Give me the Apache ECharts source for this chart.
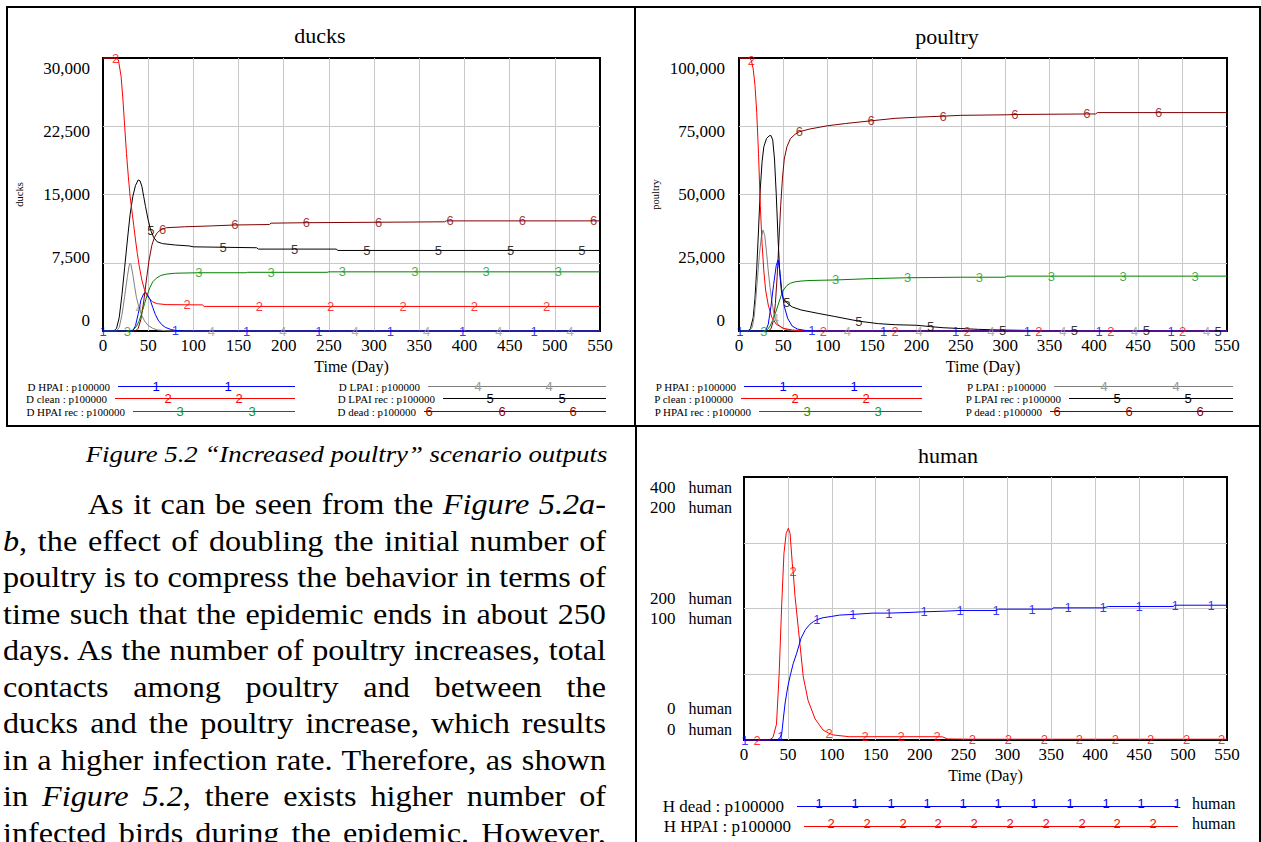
<!DOCTYPE html>
<html>
<head>
<meta charset="utf-8">
<script src="https://cdn.jsdelivr.net/npm/echarts@6/dist/echarts.min.js"></script>
<style>
html,body{margin:0;padding:0;background:#fff;width:1261px;height:842px;overflow:hidden;}
.box{position:absolute;border:2px solid #000;box-sizing:border-box;}
#chart{position:absolute;left:0;top:0;width:1261px;height:842px;}
#caption{position:absolute;right:654px;top:441px;font-style:italic;font-size:22.5px;font-family:"Liberation Serif","Times New Roman",serif;line-height:28px;white-space:nowrap;transform:scaleX(1.19);transform-origin:right center;}
#para{position:absolute;left:3px;top:487px;width:533.6px;font-size:28.5px;font-family:"Liberation Serif","Times New Roman",serif;line-height:36.5px;transform:scaleX(1.13);transform-origin:left top;}
#para div{white-space:nowrap;text-align:justify;text-align-last:justify;}
</style>
</head>
<body>
<div class="box" style="left:6px;top:6px;width:630px;height:421px;"></div>
<div class="box" style="left:634px;top:6px;width:627px;height:421px;"></div>
<div class="box" style="left:635px;top:425px;width:626px;height:430px;"></div>
<div id="caption">Figure 5.2 “Increased poultry” scenario outputs</div>
<div id="para">
<div style="text-indent:75px;">As it can be seen from the <i>Figure 5.2a-</i></div>
<div><i>b</i>, the effect of doubling the initial number of</div>
<div>poultry is to compress the behavior in terms of</div>
<div>time such that the epidemic ends in about 250</div>
<div>days. As the number of poultry increases, total</div>
<div>contacts among poultry and between the</div>
<div>ducks and the poultry increase, which results</div>
<div>in a higher infection rate. Therefore, as shown</div>
<div>in <i>Figure 5.2</i>, there exists higher number of</div>
<div>infected birds during the epidemic. However,</div>
</div>
<div id="chart"></div>
<script>
// ---------------- DATA ----------------
const duckNames = ['D HPAI : p100000','D clean : p100000','D HPAI rec : p100000','D LPAI : p100000','D LPAI rec : p100000','D dead : p100000'];
const poultryNames = ['P HPAI : p100000','P clean : p100000','P HPAI rec : p100000','P LPAI : p100000','P LPAI rec : p100000','P dead : p100000'];
const humanNames = ['H dead : p100000','H HPAI : p100000'];

const duckHPAI = [[0,0],[33,0],[36,600],[39,1900],[42,3400],[45,4100],[47,4200],[49,4000],[52,3500],[55,2600],[58,1800],[61,1200],[65,700],[69,400],[75,170],[80,60],[90,0],[159,0],[239,0],[318,0],[398,0],[477,0],[550,0]];
const duckClean = [[0,30000],[14,30000],[17,29800],[20,28000],[22,25500],[24,22500],[26,19500],[28,17000],[30,14800],[32,13200],[34,11600],[36,10000],[38,8500],[40,7200],[43,5600],[46,4500],[50,3700],[55,3200],[60,3000],[70,2900],[93,2880],[110,2870],[112,2700],[173,2700],[252,2700],[332,2700],[411,2700],[491,2700],[550,2700]];
const duckHPAIrec = [[0,0],[27,0],[33,100],[37,500],[40,1100],[43,2000],[46,3000],[49,4000],[52,4800],[55,5400],[59,5800],[64,6100],[70,6250],[80,6350],[106,6400],[158,6400],[160,6450],[186,6450],[248,6450],[250,6500],[265,6500],[345,6500],[424,6500],[504,6500],[550,6500]];
const duckLPAI = [[0,0],[15,0],[18,400],[21,1800],[24,3800],[27,6000],[29,7200],[30,7450],[31,7300],[33,6200],[35,4900],[37,3700],[40,2500],[43,1700],[46,1100],[50,600],[55,300],[60,120],[70,30],[80,0],[120,0],[199,0],[279,0],[358,0],[438,0],[517,0],[550,0]];
const duckLPAIrec = [[0,0],[12,0],[15,300],[18,1500],[21,4000],[24,7000],[27,10000],[30,12800],[33,14800],[36,16000],[39,16600],[41,16500],[43,15900],[45,14800],[47,13700],[50,12200],[53,11000],[56,10300],[60,9800],[66,9600],[80,9450],[95,9350],[100,9250],[133,9200],[170,9150],[172,9000],[212,9000],[258,9000],[260,8850],[292,8850],[371,8850],[451,8850],[530,8850],[550,8850]];
const duckDead = [[0,0],[36,0],[39,300],[42,1300],[45,3200],[48,5600],[51,7800],[54,9400],[57,10300],[60,10800],[63,11050],[66,11200],[70,11350],[90,11450],[120,11550],[146,11650],[184,11700],[186,11850],[225,11900],[305,11950],[378,12000],[380,12100],[384,12100],[464,12100],[543,12100],[550,12100]];

const poultryHPAI = [[0,0],[1,0],[30,0],[33,2500],[36,9000],[39,17000],[42,24000],[44,26000],[46,22000],[48,15500],[51,9000],[55,4500],[60,1800],[66,700],[75,200],[82,50],[95,0],[163,0],[244,0],[325,0],[406,0],[487,0],[550,0]];
const poultryClean = [[0,100000],[12,100000],[14,99000],[16,96000],[18,90000],[20,80000],[22,65000],[24,46000],[26,32000],[28,22000],[30,15000],[33,9500],[37,5000],[42,2500],[50,1000],[60,350],[75,100],[95,0],[176,0],[257,0],[338,0],[419,0],[500,0],[550,0]];
const poultryHPAIrec = [[0,0],[28,0],[32,500],[35,1800],[38,4000],[41,6500],[44,9500],[47,12500],[50,15000],[54,16700],[58,17500],[63,18000],[70,18300],[80,18500],[109,18700],[150,19200],[190,19500],[250,19700],[271,19700],[300,19700],[302,20100],[352,20100],[433,20100],[514,20100],[550,20100]];
const poultryLPAI = [[0,0],[12,0],[15,1500],[17,5000],[19,12000],[21,20000],[23,28000],[25,34000],[27,37000],[29,35000],[31,29000],[33,22000],[35,16000],[37,11000],[39,7000],[41,4500],[44,2500],[48,1200],[55,400],[65,100],[80,0],[122,0],[203,0],[284,0],[365,0],[446,0],[527,0],[550,0]];
const poultryLPAIrec = [[0,0],[10,0],[13,1000],[16,5000],[18,12000],[20,23000],[22,37000],[24,52000],[26,62000],[28,67500],[31,70500],[34,71500],[36,71600],[38,70000],[40,63000],[42,50000],[44,34000],[46,21000],[48,14000],[50,11800],[54,10300],[60,8800],[70,7700],[90,6400],[108,5300],[135,3600],[157,2700],[176,2300],[200,2100],[216,1600],[230,1200],[250,900],[270,600],[297,350],[330,200],[378,80],[459,20],[540,0],[550,0]];
const poultryDead = [[0,0],[33,0],[36,800],[39,4000],[41,10000],[43,20000],[45,33000],[47,46000],[49,56000],[51,63000],[54,67500],[58,70500],[63,72000],[68,73000],[80,74000],[100,75200],[120,76000],[149,77000],[176,77900],[200,78300],[230,78700],[250,79000],[302,79200],[311,79300],[392,79500],[402,79500],[404,80000],[473,80000],[550,80000]];

const humanDead = [[0,0],[1,0],[37,0],[40,2],[42,6],[43,10],[45,35],[47,58],[50,82],[53,100],[56,116],[60,132],[65,155],[70,168],[75,176],[79,180],[83,183],[90,186],[100,188],[109,190],[124,191],[147,193],[165,193],[189,194],[205,195],[230,196],[246,197],[287,197],[290,199],[328,199],[351,199],[352,201],[369,201],[409,201],[415,203],[450,203],[489,203],[490,205],[491,205],[532,205],[550,205]];
const humanHPAI = [[0,0],[15,0],[29,0],[33,2],[37,12],[40,50],[43,104],[45.5,142],[48,157],[50.5,161],[52.5,157],[55,134],[56,128],[58,110],[62,84],[67.5,48],[73,30],[81,16],[90,7.6],[97,5],[102,3.8],[120,2.5],[138,2.5],[179,2.5],[220,2.5],[226,2.4],[232,0.8],[260,0.6],[301,0.6],[342,0.6],[382,0.6],[423,0.6],[463,0.6],[504,0.6],[544,0.6],[550,0.6]];

// days at which the series numbers are printed on each line
const duckMarkerDays = [[0,80,159,239,318,398,477],[14,93,173,252,332,411,491],[27,106,186,265,345,424,504],[40,120,199,279,358,438,517],[53,133,212,292,371,451,530],[66,146,225,305,384,464,543]];
const poultryMarkerDays = [[1,82,163,244,325,406,487],[14,95,176,257,338,419,500],[28,109,190,271,352,433,514],[41,122,203,284,365,446,527],[54,135,216,297,378,459,540],[68,149,230,311,392,473]];
const humanMarkerDays = [[1,42,83,124,165,205,246,287,328,369,409,450,491,532],[15,56,97,138,179,220,260,301,342,382,423,463,504,544]];

// human axis tick labels (two scales)
const humanTickDead = ['0','200','400'];
const humanTickHPAI = ['0','100','200'];
const markerLabels = ['1','2','3','4','5','6'];

// ---------------- STYLE ----------------
const SERIF = '"Liberation Serif","Times New Roman",serif';
const SANS = '"Liberation Sans",Arial,sans-serif';
const colors = ['#0000ff','#ff0000','#008000','#808080','#000000','#800000'];
const markerColors = ['#0000ff','#ff0000','#119911','#999999','#000000','#8b0000'];
const gridColor = '#c8c8c8';

const duckData = [duckHPAI,duckClean,duckHPAIrec,duckLPAI,duckLPAIrec,duckDead];
const poultryData = [poultryHPAI,poultryClean,poultryHPAIrec,poultryLPAI,poultryLPAIrec,poultryDead];

const grids = [
  {left:103,top:58,width:497,height:273,show:true,borderColor:'#000',borderWidth:2,backgroundColor:'transparent'},
  {left:103,top:68,width:497,height:252},
  {left:739,top:58,width:488,height:273,show:true,borderColor:'#000',borderWidth:2,backgroundColor:'transparent'},
  {left:739,top:68,width:488,height:252},
  {left:744,top:477,width:483,height:263,show:true,borderColor:'#000',borderWidth:2,backgroundColor:'transparent'},
  {left:744,top:497.5,width:483,height:221.5}
];
grids.forEach(g=>{g.outerBoundsMode='none';});

function plotX(gi){
  return {gridIndex:gi,type:'value',min:0,max:550,interval:50,
    axisLine:{show:false},axisTick:{show:false},
    axisLabel:{fontSize:17,fontFamily:SERIF,color:'#000',margin:6,showMinLabel:true,showMaxLabel:true},
    splitLine:{show:true,showMinLine:false,showMaxLine:false,lineStyle:{color:gridColor,width:1}},
    name:'Time (Day)',nameLocation:'middle',nameGap:27,nameTextStyle:{fontSize:16,fontFamily:SERIF,color:'#000'}};
}
function hiddenX(gi){return {gridIndex:gi,type:'value',min:0,max:550,show:false};}
function plotY(gi,max,interval,name){
  return {gridIndex:gi,type:'value',min:0,max:max,interval:interval,
    axisLine:{show:false},axisTick:{show:false},axisLabel:{show:false},
    splitLine:{show:true,showMinLine:false,showMaxLine:false,lineStyle:{color:gridColor,width:1}},
    name:name,nameLocation:'middle',nameGap:78,nameRotate:90,
    nameTextStyle:{fontSize:10.5,fontFamily:SERIF,color:'#000'}};
}
function labelY(gi,max,interval,margin){
  return {gridIndex:gi,type:'value',min:0,max:max,interval:interval,
    axisLine:{show:false},axisTick:{show:false},splitLine:{show:false},
    axisLabel:{fontSize:17,fontFamily:SERIF,color:'#000',margin:margin,showMinLabel:true,showMaxLabel:true,
      formatter:v=>v.toLocaleString('en-US')}};
}

const xAxes = [plotX(0),hiddenX(1),plotX(2),hiddenX(3),plotX(4),hiddenX(5)];
const yAxes = [
  plotY(0,30000,7500,'ducks'),
  labelY(1,30000,7500,13),
  plotY(2,100000,25000,'poultry'),
  labelY(3,100000,25000,14),
  Object.assign(plotY(4,400,100,''),{name:''}),
  {gridIndex:4,type:'value',min:0,max:200,interval:50,show:false},
  {gridIndex:5,type:'value',min:0,max:400,interval:200,
    axisLine:{show:false},axisTick:{show:false},splitLine:{show:false},
    axisLabel:{margin:12,showMinLabel:true,showMaxLabel:true,
      formatter:v=>{const i=Math.round(v/200);return '{n|'+humanTickDead[i]+'}{u|human}\n{n|'+humanTickHPAI[i]+'}{u|human}';},
      rich:{n:{width:40,align:'right',fontSize:17,fontFamily:SERIF,color:'#000',lineHeight:20.5},
            u:{fontSize:16,fontFamily:SERIF,color:'#000',padding:[0,0,0,13],lineHeight:20.5}}}}
];

const series = [];
function addSeries(names,dataList,markerDays,xi,yi,colorIdx){
  names.forEach((nm,k)=>{
    const c = colors[colorIdx[k]];
    const yIdx = Array.isArray(yi)?yi[k]:yi;
    series.push({type:'line',name:nm,data:dataList[k],xAxisIndex:xi,yAxisIndex:yIdx,
      symbol:'none',smooth:false,clip:false,silent:true,z:10-k,
      lineStyle:{width:1,color:c},itemStyle:{color:c},emphasis:{disabled:true}});
    const md = markerDays[k];
    series.push({type:'scatter',name:nm+' #',data:dataList[k].filter(p=>md.indexOf(p[0])>=0),
      xAxisIndex:xi,yAxisIndex:yIdx,symbolSize:1,silent:true,z:20,clip:false,
      itemStyle:{color:'rgba(0,0,0,0)'},emphasis:{disabled:true},
      label:{show:true,position:'inside',formatter:markerLabels[k],color:markerColors[colorIdx[k]],fontSize:13,fontFamily:SANS}});
  });
}
addSeries(duckNames,duckData,duckMarkerDays,0,0,[0,1,2,3,4,5]);
addSeries(poultryNames,poultryData,poultryMarkerDays,2,2,[0,1,2,3,4,5]);
addSeries(humanNames,[humanDead,humanHPAI],humanMarkerDays,4,[4,5],[0,1]);

// legends: one row each
const legendRows = [
  {name:duckNames[0],start:118,end:295,y:386,size:11,gap:3},
  {name:duckNames[1],start:115,end:295,y:398,size:11,gap:3},
  {name:duckNames[2],start:133,end:295,y:411,size:11,gap:3},
  {name:duckNames[3],start:428,end:606,y:386,size:11,gap:3},
  {name:duckNames[4],start:443,end:606,y:398,size:11,gap:3},
  {name:duckNames[5],start:424,end:606,y:411,size:11,gap:3},
  {name:poultryNames[0],start:744,end:922,y:386,size:11,gap:3},
  {name:poultryNames[1],start:741,end:922,y:398,size:11,gap:3},
  {name:poultryNames[2],start:759,end:922,y:411,size:11,gap:3},
  {name:poultryNames[3],start:1054,end:1233,y:386,size:11,gap:3},
  {name:poultryNames[4],start:1069,end:1233,y:398,size:11,gap:3},
  {name:poultryNames[5],start:1050,end:1233,y:411,size:11,gap:3},
  {name:humanNames[0],start:797,end:1178,y:803,size:17,gap:8},
  {name:humanNames[1],start:804,end:1178,y:823,size:17,gap:8}
];
const legends = legendRows.map(r=>{
  const w = r.end-r.start;
  return {
    data:[r.name],right:1261-r.end,top:r.y-5,padding:0,align:'right',orient:'horizontal',
    itemWidth:w,itemHeight:10,selectedMode:false,
    icon:'path://M0 0H'+w+'V1H0Z',
    itemStyle:{borderWidth:0},
    textStyle:{fontSize:r.size,fontFamily:SERIF,color:'#000',padding:[0,r.gap,0,0]}
  };
});

// legend line number marks
const legendMarks = [
  {k:0,c:0,y:386,xs:[156,228]},{k:1,c:1,y:398,xs:[168,239]},{k:2,c:2,y:411,xs:[180,252]},
  {k:3,c:3,y:386,xs:[478,549]},{k:4,c:4,y:398,xs:[490,562]},{k:5,c:5,y:411,xs:[429,502,573]},
  {k:0,c:0,y:386,xs:[783,854]},{k:1,c:1,y:398,xs:[795,866]},{k:2,c:2,y:411,xs:[807,878]},
  {k:3,c:3,y:386,xs:[1104,1176]},{k:4,c:4,y:398,xs:[1117,1188]},{k:5,c:5,y:411,xs:[1057,1129,1200]},
  {k:0,c:0,y:803,xs:[819,855,891,927,963,998,1034,1070,1106,1141,1177]},
  {k:1,c:1,y:823,xs:[831,867,903,938,974,1010,1046,1082,1117,1153]}
];
const graphics = [];
legendMarks.forEach(m=>m.xs.forEach(x=>graphics.push({type:'text',x:x,y:m.y,silent:true,z:50,
  style:{text:markerLabels[m.k],fill:markerColors[m.c],font:'13px '+SANS,align:'center',verticalAlign:'middle'}})));
[['ducks',320,35],['poultry',947,36],['human',948,455]].forEach(t=>graphics.push({type:'text',x:t[1],y:t[2],silent:true,
  style:{text:t[0],fill:'#000',font:'22px '+SERIF,align:'center',verticalAlign:'middle'}}));
[803,823].forEach(y=>graphics.push({type:'text',x:1192,y:y,silent:true,
  style:{text:'human',fill:'#000',font:'16px '+SERIF,align:'left',verticalAlign:'middle'}}));

const chart = echarts.init(document.getElementById('chart'),null,{renderer:'svg',width:1261,height:842});
chart.setOption({
  animation:false,
  backgroundColor:'transparent',
  textStyle:{fontFamily:SERIF},
  grid:grids,xAxis:xAxes,yAxis:yAxes,series:series,legend:legends,graphic:graphics
});
</script>
</body>
</html>
